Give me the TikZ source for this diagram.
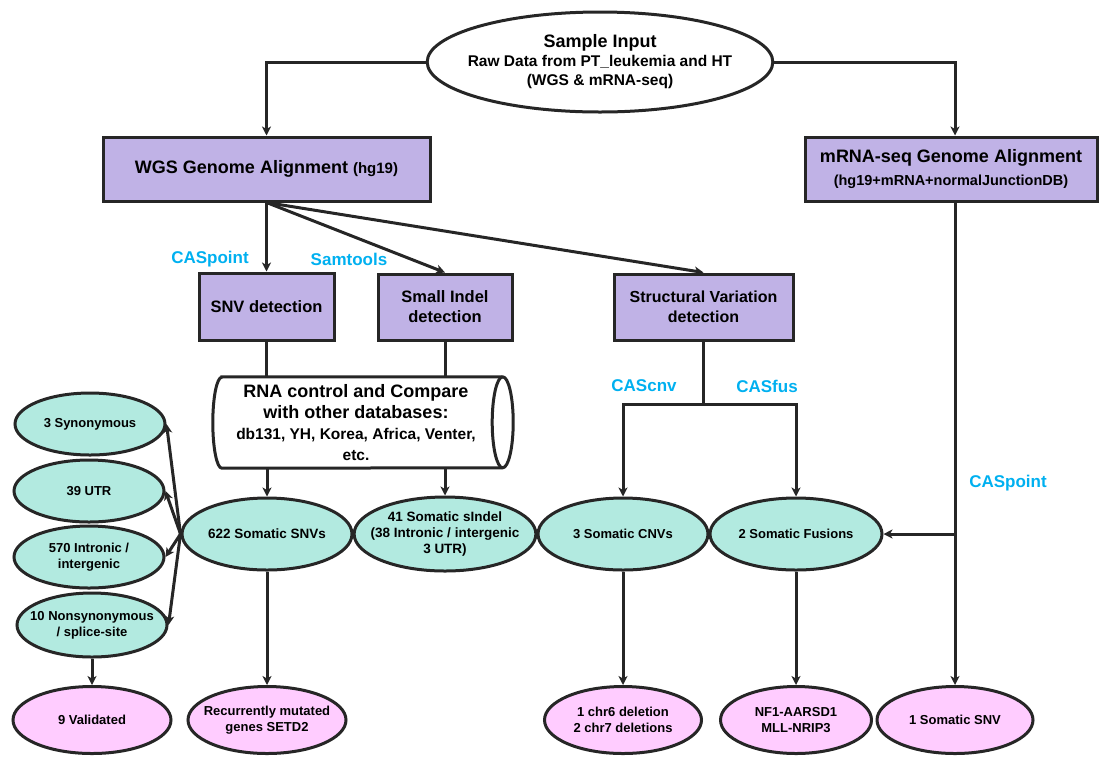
\documentclass[tikz,border=0pt]{standalone}
\usepackage{fontspec}
\setmainfont{Liberation Sans}
\usepackage{xcolor}
\usetikzlibrary{positioning}
\usetikzlibrary{shapes.geometric}
\usetikzlibrary{arrows.meta}

\definecolor{boxfill}{RGB}{192,178,230}
\definecolor{ovalfill}{RGB}{178,234,224}
\definecolor{pinkfill}{RGB}{255,204,255}
\definecolor{toolblue}{RGB}{0,176,240}
\definecolor{linegray}{RGB}{38,38,38}

\newcommand{\fsz}[2]{\fontsize{#1}{#2}\selectfont}

\begin{document}
\begin{tikzpicture}[x=1pt,y=-1pt,
  box/.style={draw=linegray, fill=boxfill, line width=3pt, align=center, inner sep=0pt, font=\bfseries\fsz{16.5}{20}},
  oval/.style={ellipse, draw=linegray, fill=ovalfill, line width=3pt, align=center, inner sep=-10pt, font=\bfseries\fsz{13}{16}},
  result/.style={oval, fill=pinkfill},
  tool/.style={text=toolblue, font=\bfseries\fsz{17}{20}},
  link/.style={draw=linegray, line width=3pt},
  arr/.style={link, -{Stealth[length=9pt,width=9pt,inset=2.5pt]}}
]
\useasboundingbox (0,0) rectangle (1099,756);

% input
\node[oval, fill=white, minimum width=326pt, minimum height=100pt, font=\bfseries\fsz{15.5}{19}] (input) at (600,62)
  {\fsz{18}{19}Sample Input\\ Raw Data from PT\_leukemia and HT\\ (WGS \& mRNA-seq)};

% alignment boxes
\node[box, minimum width=327pt, minimum height=64pt, font=\bfseries\fsz{18}{22}] (wgs) at (266.5,169)
  {WGS Genome Alignment {\fsz{15}{18}(hg19)}};
\node[box, minimum width=292pt, minimum height=64pt, font=\bfseries\fsz{14.5}{23}] (mrna) at (951,169)
  {\fsz{18}{23}mRNA-seq Genome Alignment\\ (hg19+mRNA+normalJunctionDB)};

% detection boxes
\node[box, minimum width=135pt, minimum height=67pt] (snvbox) at (266.5,306.5) {SNV detection};
\node[box, minimum width=134pt, minimum height=66pt] (indelbox) at (445,307) {Small Indel\\ detection};
\node[box, minimum width=179pt, minimum height=66pt, font=\bfseries\fsz{16}{20}] (svbox) at (703.5,307) {Structural Variation\\ detection};

% database cylinder
\node[minimum width=300pt, minimum height=91pt, inner sep=0pt] (dbshape) at (363,422.5) {};
\draw[draw=linegray, fill=white, line width=3pt]
  ([xshift=9pt]dbshape.north west) -- ([xshift=-10.5pt]dbshape.north east)
  arc (90:-90:10.5pt and 45.5pt) -- ([xshift=9pt]dbshape.south west)
  arc (270:90:9pt and 45.5pt) -- cycle;
\draw[draw=linegray, line width=3pt] ([xshift=-10.5pt]dbshape.north east) arc (90:270:10.5pt and 45.5pt);
\node[align=center, inner sep=0pt, font=\bfseries\fsz{18}{21}] (db) at (356,422.5)
  {RNA control and Compare\\ with other databases:\\ \fsz{15.5}{19}db131, YH, Korea, Africa, Venter,\\ \fsz{15.5}{19}etc.};

% somatic ovals
\node[oval, minimum width=170pt, minimum height=72pt, font=\bfseries\fsz{13.5}{16}] (snvs) at (267,534) {622 Somatic SNVs};
\node[oval, minimum width=174pt, minimum height=74pt, font=\bfseries\fsz{13.5}{16}] (indels) at (445,534)
  {41 Somatic sIndel\\ (38 Intronic / intergenic\\ 3 UTR)};
\node[oval, minimum width=170pt, minimum height=72pt] (cnvs) at (623,534) {3 Somatic CNVs};
\node[oval, minimum width=172pt, minimum height=72pt] (fusions) at (796,534) {2 Somatic Fusions};

% snv classes
\node[oval, minimum width=150pt, minimum height=62pt] (syn) at (90,424) {3 Synonymous};
\node[oval, minimum width=150pt, minimum height=62pt] (utr) at (89,491) {39 UTR};
\node[oval, minimum width=150pt, minimum height=62pt] (intron) at (89,557) {570 Intronic /\\ intergenic};
\node[oval, minimum width=150pt, minimum height=64pt] (nonsyn) at (92,625) {10 Nonsynonymous\\ / splice-site};

% results
\node[result, minimum width=158pt, minimum height=67pt] (valid) at (92,720) {9 Validated};
\node[result, minimum width=158pt, minimum height=67pt] (setd) at (267,720) {Recurrently mutated\\ genes SETD2};
\node[result, minimum width=157pt, minimum height=67pt] (dels) at (623,720) {1 chr6 deletion\\ 2 chr7 deletions};
\node[result, minimum width=151pt, minimum height=67pt] (genes) at (796,720) {NF1-AARSD1\\ MLL-NRIP3};
\node[result, minimum width=156pt, minimum height=67pt] (snvone) at (955,720) {1 Somatic SNV};

% tool labels
\node[tool] (caspoint) at (210,259) {CASpoint};
\node[tool] (samtools) at (349,259) {Samtools};
\node[tool] (cascnv) at (644,386) {CAScnv};
\node[tool] (casfus) at (767,386) {CASfus};
\node[tool] (caspointrna) at (1008,483) {CASpoint};

% arrows
\draw[arr] (input.west) -| (wgs.north);
\draw[arr] (input.east) -| (snvone.north |- mrna.north);

\draw[arr] (wgs.south) -- (snvbox.north);
\draw[arr] (wgs.south) -- (indelbox.north);
\draw[arr] (wgs.south) -- (svbox.north);

\draw[link] (snvbox.south) -- (snvbox.south |- dbshape.north);
\draw[link] (indelbox.south) -- (indelbox.south |- dbshape.north);
\draw[arr] (snvs.north |- dbshape.south) -- (snvs.north);
\draw[arr] (indels.north |- dbshape.south) -- (indels.north);

\draw[arr] (snvs.west) -- (syn.east);
\draw[arr] (snvs.west) -- (utr.east);
\draw[arr] (snvs.west) -- (intron.east);
\draw[arr] (snvs.west) -- (nonsyn.east);
\draw[arr] (nonsyn.south) -- (valid.north);
\draw[arr] (snvs.south) -- (setd.north);

\draw[link] (svbox.south) -- ++(0,63) coordinate (svsplit);
\draw[arr] (svsplit) -| (cnvs.north);
\draw[arr] (svsplit) -| (fusions.north);
\draw[arr] (cnvs.south) -- (dels.north);
\draw[arr] (fusions.south) -- (genes.north);

\draw[arr] (snvone.north |- mrna.south) -- (snvone.north);
\draw[arr] (snvone.north |- fusions.east) -- (fusions.east);

\end{tikzpicture}
\end{document}
